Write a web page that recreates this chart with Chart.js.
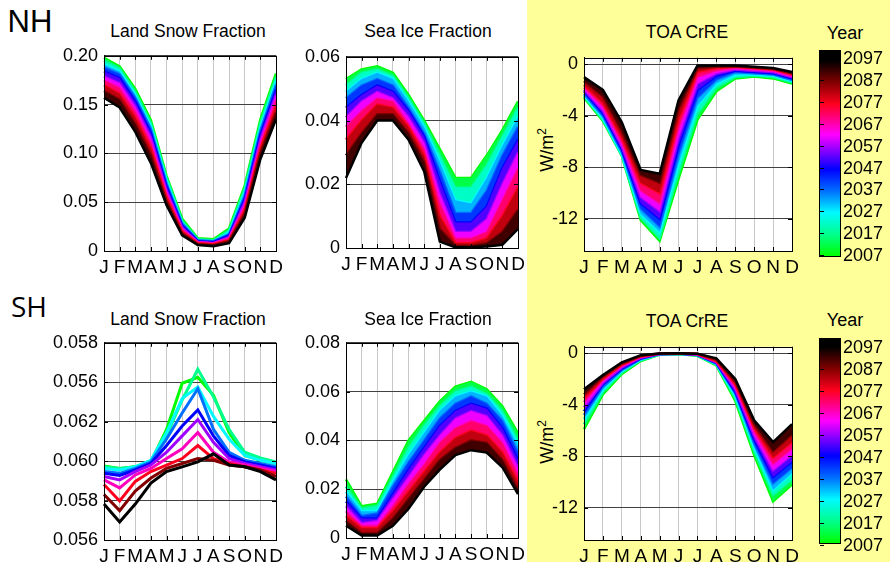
<!DOCTYPE html>
<html>
<head>
<meta charset="utf-8">
<script src="https://cdn.jsdelivr.net/npm/chart.js@4.4.1/dist/chart.umd.min.js"></script>
<style>
  html, body { margin: 0; padding: 0; background: #fff; }
  #page { position: relative; width: 890px; height: 562px; overflow: hidden; font-family: "Liberation Sans", Arial, sans-serif; color: #000; }
  #yellow { position: absolute; left: 527px; top: 0; width: 363px; height: 562px; background: #ffff99; }
  canvas { position: absolute; }
  .txt { position: absolute; white-space: nowrap; line-height: 1; transform: translate(-50%, -50%); }
  .cbar { position: absolute; border: 1px solid #000; box-sizing: border-box; }
  .cbtick { position: absolute; width: 4px; height: 1px; background: #000; }
  .cblab { position: absolute; font-size: 18px; line-height: 1; transform: translateY(-50%); }
</style>
</head>
<body>
<div id="page"><div id="yellow"></div></div>
<script>
const months = ['J', 'F', 'M', 'A', 'M', 'J', 'J', 'A', 'S', 'O', 'N', 'D'];
const years = [2007, 2017, 2027, 2037, 2047, 2057, 2067, 2077, 2087, 2097];
const cbarLabels = [2097, 2087, 2077, 2067, 2057, 2047, 2037, 2027, 2017, 2007];

// one row per year (2007 ... 2097), 12 monthly values each
const nhSnow = [
    [0.198, 0.189, 0.166, 0.134, 0.077, 0.033, 0.013, 0.012, 0.023, 0.067, 0.135, 0.182],
    [0.195, 0.187, 0.163, 0.131, 0.075, 0.031, 0.012, 0.011, 0.021, 0.064, 0.131, 0.178],
    [0.191, 0.184, 0.160, 0.128, 0.072, 0.029, 0.011, 0.010, 0.019, 0.060, 0.127, 0.174],
    [0.188, 0.181, 0.157, 0.125, 0.069, 0.028, 0.011, 0.010, 0.017, 0.057, 0.123, 0.170],
    [0.184, 0.177, 0.153, 0.121, 0.066, 0.026, 0.010, 0.009, 0.016, 0.053, 0.119, 0.165],
    [0.179, 0.172, 0.148, 0.116, 0.062, 0.024, 0.009, 0.008, 0.014, 0.050, 0.114, 0.160],
    [0.175, 0.167, 0.143, 0.111, 0.059, 0.022, 0.009, 0.008, 0.013, 0.046, 0.110, 0.155],
    [0.170, 0.161, 0.137, 0.105, 0.055, 0.020, 0.008, 0.007, 0.011, 0.042, 0.105, 0.148],
    [0.164, 0.155, 0.130, 0.098, 0.051, 0.018, 0.007, 0.006, 0.010, 0.038, 0.100, 0.142],
    [0.157, 0.147, 0.122, 0.090, 0.047, 0.016, 0.006, 0.005, 0.008, 0.034, 0.094, 0.135]
];

const nhIce = [
    [0.053, 0.056, 0.057, 0.055, 0.048, 0.040, 0.031, 0.022, 0.022, 0.029, 0.037, 0.046],
    [0.051, 0.055, 0.056, 0.054, 0.047, 0.039, 0.029, 0.019, 0.019, 0.026, 0.035, 0.044],
    [0.049, 0.053, 0.055, 0.053, 0.046, 0.038, 0.027, 0.015, 0.014, 0.022, 0.032, 0.041],
    [0.047, 0.051, 0.053, 0.051, 0.044, 0.036, 0.024, 0.011, 0.011, 0.018, 0.029, 0.038],
    [0.044, 0.048, 0.051, 0.049, 0.043, 0.035, 0.021, 0.008, 0.008, 0.013, 0.025, 0.034],
    [0.041, 0.046, 0.049, 0.047, 0.041, 0.033, 0.017, 0.005, 0.005, 0.009, 0.020, 0.030],
    [0.038, 0.043, 0.047, 0.046, 0.039, 0.031, 0.014, 0.003, 0.003, 0.005, 0.015, 0.025],
    [0.034, 0.040, 0.045, 0.044, 0.038, 0.029, 0.010, 0.0015, 0.0015, 0.003, 0.010, 0.019],
    [0.029, 0.036, 0.042, 0.042, 0.036, 0.027, 0.006, 0.0007, 0.0007, 0.0015, 0.005, 0.012],
    [0.022, 0.033, 0.040, 0.040, 0.034, 0.024, 0.002, 0.0002, 0.0002, 0.0005, 0.001, 0.006]
];

const nhToa = [
    [-2.6, -4.4, -7.1, -12.1, -13.7, -8.9, -4.3, -2.1, -1.1, -0.95, -1.1, -1.5],
    [-2.5, -4.3, -7.1, -11.9, -13.5, -8.4, -3.8, -1.8, -1.0, -0.9, -1.0, -1.4],
    [-2.4, -4.2, -7.0, -11.6, -13.0, -7.7, -3.2, -1.5, -0.8, -0.8, -0.9, -1.3],
    [-2.3, -4.0, -6.8, -11.2, -12.6, -7.0, -2.6, -1.2, -0.6, -0.7, -0.8, -1.2],
    [-2.1, -3.8, -6.6, -10.8, -12.0, -6.3, -2.0, -0.9, -0.5, -0.6, -0.7, -1.1],
    [-2.0, -3.6, -6.4, -10.3, -11.4, -5.7, -1.5, -0.7, -0.4, -0.5, -0.6, -1.0],
    [-1.8, -3.3, -6.1, -9.8, -10.8, -5.0, -1.0, -0.5, -0.3, -0.4, -0.5, -0.9],
    [-1.6, -3.0, -5.7, -9.2, -10.0, -4.3, -0.6, -0.3, -0.2, -0.3, -0.4, -0.8],
    [-1.3, -2.5, -5.2, -8.6, -9.2, -3.5, -0.3, -0.2, -0.15, -0.25, -0.35, -0.7],
    [-1.0, -2.0, -4.5, -8.2, -8.5, -2.8, -0.1, -0.1, -0.1, -0.2, -0.3, -0.6]
];

const shSnow = [
    [0.05975, 0.05963, 0.05971, 0.05996, 0.06161, 0.06395, 0.06425, 0.06334, 0.06145, 0.06029, 0.06004, 0.05988],
    [0.05971, 0.05963, 0.05971, 0.06004, 0.06128, 0.06310, 0.06466, 0.06326, 0.06161, 0.06045, 0.06016, 0.05996],
    [0.05963, 0.05955, 0.05971, 0.06004, 0.06145, 0.06318, 0.06376, 0.06227, 0.06112, 0.06029, 0.06004, 0.05988],
    [0.05947, 0.05938, 0.05963, 0.05996, 0.06112, 0.06244, 0.06367, 0.06161, 0.06045, 0.06004, 0.05988, 0.05971],
    [0.05938, 0.05927, 0.05955, 0.05988, 0.06079, 0.06178, 0.06260, 0.06128, 0.06029, 0.05996, 0.05980, 0.05963],
    [0.05922, 0.05905, 0.05947, 0.05980, 0.06045, 0.06128, 0.06211, 0.06095, 0.06013, 0.05988, 0.05971, 0.05955],
    [0.05905, 0.05864, 0.05930, 0.05963, 0.06013, 0.06062, 0.06145, 0.06045, 0.05996, 0.05980, 0.05963, 0.05947],
    [0.05881, 0.05798, 0.05897, 0.05947, 0.05980, 0.06013, 0.06079, 0.06013, 0.05988, 0.05971, 0.05955, 0.05938],
    [0.05831, 0.05749, 0.05848, 0.05914, 0.05963, 0.05988, 0.06013, 0.06004, 0.05980, 0.05971, 0.05955, 0.05922],
    [0.05782, 0.05691, 0.05782, 0.05889, 0.05947, 0.05971, 0.05996, 0.06037, 0.05980, 0.05971, 0.05947, 0.05905]
];

const shIce = [
    [0.024, 0.013, 0.014, 0.027, 0.040, 0.048, 0.056, 0.062, 0.064, 0.061, 0.054, 0.043],
    [0.021, 0.012, 0.013, 0.025, 0.037, 0.046, 0.054, 0.060, 0.062, 0.059, 0.052, 0.040],
    [0.019, 0.011, 0.011, 0.023, 0.034, 0.043, 0.052, 0.058, 0.060, 0.058, 0.050, 0.038],
    [0.017, 0.009, 0.010, 0.021, 0.031, 0.040, 0.049, 0.055, 0.058, 0.055, 0.048, 0.035],
    [0.015, 0.008, 0.008, 0.018, 0.028, 0.037, 0.046, 0.052, 0.055, 0.053, 0.045, 0.032],
    [0.013, 0.006, 0.007, 0.016, 0.025, 0.034, 0.042, 0.049, 0.052, 0.050, 0.042, 0.029],
    [0.011, 0.005, 0.005, 0.013, 0.022, 0.030, 0.039, 0.045, 0.048, 0.046, 0.039, 0.026],
    [0.009, 0.004, 0.004, 0.011, 0.019, 0.027, 0.035, 0.041, 0.044, 0.042, 0.035, 0.023],
    [0.007, 0.002, 0.002, 0.008, 0.016, 0.024, 0.032, 0.037, 0.040, 0.039, 0.032, 0.020],
    [0.005, 0.001, 0.001, 0.005, 0.012, 0.021, 0.028, 0.034, 0.036, 0.035, 0.029, 0.018]
];

const shToa = [
    [-5.9, -3.2, -1.6, -0.6, -0.1, -0.05, -0.2, -0.95, -3.7, -7.9, -11.5, -10.2],
    [-5.5, -3.0, -1.5, -0.55, -0.1, -0.05, -0.18, -0.9, -3.5, -7.6, -11.0, -9.8],
    [-5.1, -2.8, -1.4, -0.5, -0.08, -0.04, -0.16, -0.85, -3.3, -7.3, -10.6, -9.3],
    [-4.8, -2.6, -1.3, -0.45, -0.07, -0.04, -0.14, -0.8, -3.1, -7.0, -10.1, -8.9],
    [-4.5, -2.4, -1.2, -0.4, -0.06, -0.03, -0.12, -0.75, -3.0, -6.7, -9.6, -8.4],
    [-4.2, -2.3, -1.1, -0.35, -0.05, -0.03, -0.1, -0.7, -2.8, -6.4, -9.1, -7.9],
    [-3.8, -2.1, -1.0, -0.3, -0.04, -0.02, -0.08, -0.65, -2.6, -6.1, -8.6, -7.4],
    [-3.5, -2.0, -0.9, -0.25, -0.03, -0.02, -0.06, -0.6, -2.4, -5.8, -8.1, -6.9],
    [-3.2, -1.8, -0.8, -0.2, -0.02, -0.01, -0.04, -0.5, -2.2, -5.5, -7.6, -6.3],
    [-2.8, -1.7, -0.7, -0.15, -0.02, -0.01, -0.03, -0.4, -2.0, -5.2, -6.9, -5.5]
];

const nhSnowTicks = [0, 0.05, 0.10, 0.15, 0.20];
const nhSnowLabels = ['0', '0.05', '0.10', '0.15', '0.20'];
const nhIceTicks = [0, 0.02, 0.04, 0.06];
const nhIceLabels = ['0', '0.02', '0.04', '0.06'];
const shSnowTicks = [0.056, 0.058, 0.060, 0.062, 0.064, 0.066];
const shSnowLabels = ['0.056', '0.058', '0.060', '0.062', '0.056', '0.058'];
const shIceTicks = [0, 0.02, 0.04, 0.06, 0.08];
const shIceLabels = ['0', '0.02', '0.04', '0.06', '0.08'];
const toaTicks = [-12, -8, -4, 0];
const toaLabels = ['-12', '-8', '-4', '0'];

// colour map of the year bar: green -> cyan -> blue -> magenta -> red -> black
const cmapStops = [
    [2007, 0, 255, 0], [2017, 0, 255, 140], [2027, 0, 250, 255], [2037, 0, 110, 255],
    [2047, 0, 0, 255], [2057, 160, 0, 255], [2063, 255, 0, 255], [2070, 255, 0, 140],
    [2077, 255, 0, 30], [2087, 130, 0, 0], [2097, 0, 0, 0]
];

function cmap(yr) {
    if (yr <= cmapStops[0][0]) return `rgb(${cmapStops[0][1]},${cmapStops[0][2]},${cmapStops[0][3]})`;
    for (let k = 1; k < cmapStops.length; k++) {
        const a = cmapStops[k - 1], b = cmapStops[k];
        if (yr <= b[0]) {
            const t = (yr - a[0]) / (b[0] - a[0]);
            const c = [1, 2, 3].map(j => Math.round(a[j] + (b[j] - a[j]) * t));
            return `rgb(${c[0]},${c[1]},${c[2]})`;
        }
    }
    return 'rgb(0,0,0)';
}

Chart.defaults.font.family = '"Liberation Sans", Arial, sans-serif';
Chart.defaults.color = '#000';

const page = document.getElementById('page');

const framePlugin = {
    id: 'frame',
    beforeDraw(chart) {
        const a = chart.chartArea, ctx = chart.ctx;
        ctx.save();
        ctx.fillStyle = '#fff';
        ctx.fillRect(a.left, a.top, a.right - a.left, a.bottom - a.top);
        ctx.restore();
    },
    afterDraw(chart) {
        const a = chart.chartArea, ctx = chart.ctx;
        const xs = chart.scales.x, ys = chart.scales.y;
        ctx.save();
        ctx.strokeStyle = '#000';
        ctx.lineWidth = 1;
        ctx.strokeRect(Math.round(a.left) + 0.5, Math.round(a.top) + 0.5, Math.round(a.right - a.left), Math.round(a.bottom - a.top));
        ctx.beginPath();
        xs.ticks.forEach((t, i) => {
            const x = Math.round(xs.getPixelForTick(i)) + 0.5;
            ctx.moveTo(x, a.bottom); ctx.lineTo(x, a.bottom - 4);
            ctx.moveTo(x, a.top); ctx.lineTo(x, a.top + 4);
        });
        ys.ticks.forEach(t => {
            const y = Math.round(ys.getPixelForValue(t.value)) + 0.5;
            ctx.moveTo(a.left, y); ctx.lineTo(a.left + 4, y);
            ctx.moveTo(a.right, y); ctx.lineTo(a.right - 4, y);
        });
        ctx.stroke();
        ctx.restore();
    }
};

function addText(str, x, y, size, family, rotate) {
    const d = document.createElement('div');
    d.className = 'txt';
    d.style.left = x + 'px';
    d.style.top = y + 'px';
    d.style.fontSize = size + 'px';
    if (family) d.style.fontFamily = family;
    if (rotate) d.style.transform = 'translate(-50%, -50%) rotate(-90deg)';
    d.innerHTML = str;
    page.appendChild(d);
}

function panel(box, series, yMin, yMax, ticks, tickLabels, band) {
    const [L, T, R, B] = box;
    const cv = document.createElement('canvas');
    cv.width = 70 + (R - L) + 12;
    cv.height = 12 + (B - T) + 32;
    cv.style.left = (L - 70) + 'px';
    cv.style.top = (T - 12) + 'px';
    page.appendChild(cv);

    const datasets = years.map((yr, i) => ({
        label: String(yr),
        data: series[i],
        borderColor: cmap(yr),
        borderWidth: band ? 2.5 : 3,
        backgroundColor: cmap(yr - 5),
        fill: band && i > 0 ? '-1' : false,
        order: years.length - i,
        pointRadius: 0,
        tension: 0
    }));

    return new Chart(cv, {
        type: 'line',
        data: { labels: months, datasets: datasets },
        options: {
            responsive: false,
            animation: false,
            devicePixelRatio: 1,
            layout: { padding: { top: 12, right: 12, left: 0, bottom: 0 } },
            plugins: { legend: { display: false }, tooltip: { enabled: false } },
            scales: {
                x: {
                    type: 'category',
                    offset: false,
                    grid: { color: '#c8c8c8', drawTicks: false, offset: false },
                    border: { color: '#000' },
                    ticks: { autoSkip: false, maxRotation: 0, padding: 5, font: { size: 19 } },
                    afterFit: s => { s.height = 32; }
                },
                y: {
                    min: yMin,
                    max: yMax,
                    grid: { color: '#404040', drawTicks: false },
                    border: { color: '#000' },
                    ticks: { padding: 6, font: { size: 18 }, callback: (v, i) => tickLabels[i] },
                    afterBuildTicks: s => { s.ticks = ticks.map(v => ({ value: v })); },
                    afterFit: s => { s.width = 70; }
                }
            }
        },
        plugins: [framePlugin]
    });
}

function colorbar(x, top, height, firstLabelY, step) {
    const yrMax = 2007 + height / (step / 10);
    const stops = cmapStops.map(s => `rgb(${s[1]},${s[2]},${s[3]}) ${((s[0] - 2007) / (yrMax - 2007) * 100).toFixed(2)}%`);
    const bar = document.createElement('div');
    bar.className = 'cbar';
    bar.style.left = x + 'px';
    bar.style.top = top + 'px';
    bar.style.width = '22px';
    bar.style.height = height + 'px';
    bar.style.background = `linear-gradient(to top, ${stops.join(', ')}, rgb(0,0,0) 100%)`;
    page.appendChild(bar);
    cbarLabels.forEach((yr, i) => {
        const y = firstLabelY + i * step;
        const t = document.createElement('div');
        t.className = 'cbtick';
        t.style.left = (x + 1) + 'px';
        t.style.top = Math.round(y) + 'px';
        page.appendChild(t);
        const l = document.createElement('div');
        l.className = 'cblab';
        l.style.left = (x + 24) + 'px';
        l.style.top = y + 'px';
        l.textContent = yr;
        page.appendChild(l);
    });
}

// NH row
addText('NH', 30, 21, 31);
addText('Land Snow Fraction', 188, 32, 17.5);
addText('Sea Ice Fraction', 428, 32, 17.5);
addText('TOA CrRE', 687, 33, 17.5);
addText('Year', 845, 33, 18);
addText('W/m<sup style="font-size:12px">2</sup>', 546, 150, 18, null, true);
panel([104, 51, 276, 251], nhSnow, 0, 0.2, nhSnowTicks, nhSnowLabels, true);
panel([346, 52, 518, 248], nhIce, 0, 0.06, nhIceTicks, nhIceLabels, true);
panel([584, 53, 792, 251], nhToa, -14.5, 0.5, toaTicks, toaLabels, true);
colorbar(819, 50, 207, 58, 21.9);

// SH row
addText('SH', 29, 306, 28, '"Open Sans", sans-serif');
addText('Land Snow Fraction', 188, 320, 17.5);
addText('Sea Ice Fraction', 428, 320, 17.5);
addText('TOA CrRE', 687, 322, 17.5);
addText('Year', 845, 320, 18);
addText('W/m<sup style="font-size:12px">2</sup>', 546, 442, 18, null, true);
panel([104, 338, 276, 540], shSnow, 0.056, 0.066, shSnowTicks, shSnowLabels, false);
panel([346, 338, 518, 538], shIce, 0, 0.08, shIceTicks, shIceLabels, true);
panel([584, 342, 792, 540], shToa, -14.5, 0.5, toaTicks, toaLabels, true);
colorbar(819, 338, 206, 347, 22.0);
</script>
</body>
</html>
